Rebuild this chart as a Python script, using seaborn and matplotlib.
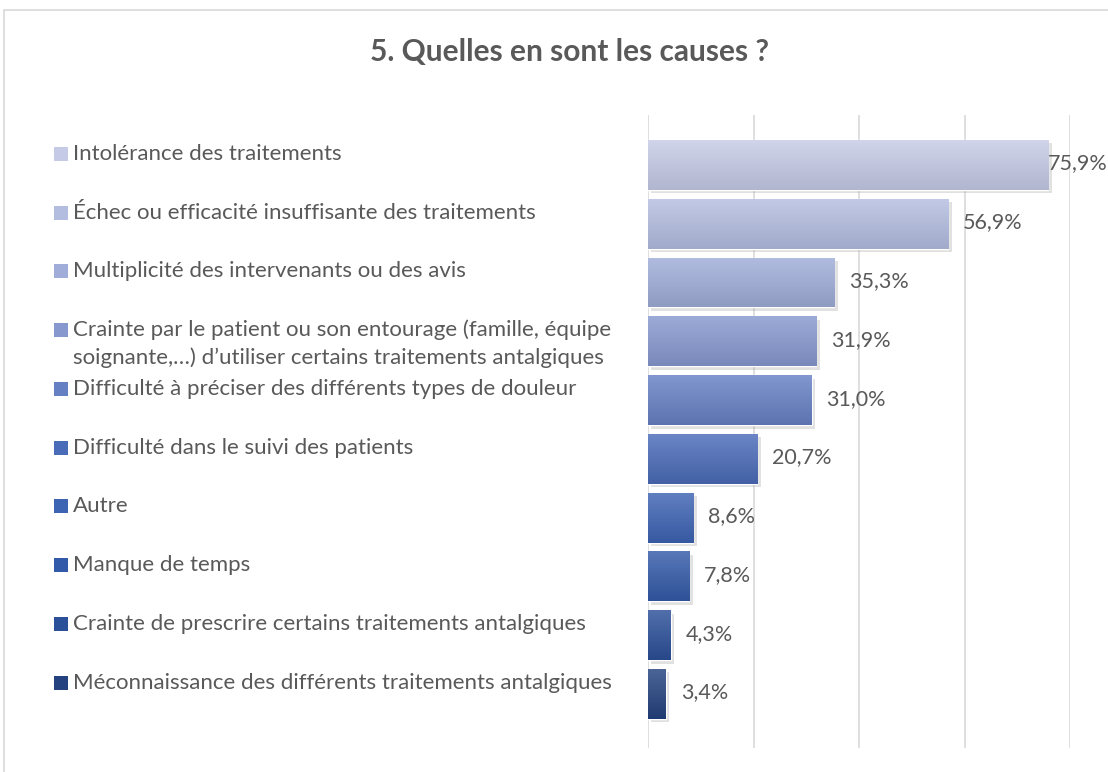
import numpy as np
import pandas as pd
import matplotlib
matplotlib.use('Agg')
import matplotlib.pyplot as plt
import matplotlib.patheffects as pe
import matplotlib.transforms as mtransforms
from matplotlib.colors import to_rgb
from matplotlib.patches import Rectangle
import seaborn as sns

causes = [
    "Intolérance des traitements",
    "Échec ou efficacité insuffisante des traitements",
    "Multiplicité des intervenants ou des avis",
    "Crainte par le patient ou son entourage (famille, équipe\nsoignante,…) d’utiliser certains traitements antalgiques",
    "Difficulté à préciser des différents types de douleur",
    "Difficulté dans le suivi des patients",
    "Autre",
    "Manque de temps",
    "Crainte de prescrire certains traitements antalgiques",
    "Méconnaissance des différents traitements antalgiques",
]
pourcentages = [75.9, 56.9, 35.3, 31.9, 31.0, 20.7, 8.6, 7.8, 4.3, 3.4]
labels = ["75,9%", "56,9%", "35,3%", "31,9%", "31,0%", "20,7%", "8,6%", "7,8%", "4,3%", "3,4%"]

palette = ["#c5cbe6", "#b3bde0", "#9fadd8", "#8798cf", "#6680c4",
           "#4a6bb8", "#3d63b3", "#335aa8", "#2b4f98", "#24427f"]

df = pd.DataFrame({"cause": causes, "pct": pourcentages})

sns.set_theme(style="white")
plt.rcParams['font.family'] = ['Lato', 'DejaVu Sans']
grey = "#595959"

fig = plt.figure(figsize=(11.08, 7.72), dpi=100)
ax = fig.add_axes([648 / 1108, 1 - 748 / 772, (1070 - 648) / 1108, (748 - 115) / 772])

sns.barplot(data=df, y="cause", x="pct", hue="cause", palette=palette,
            legend=False, width=0.85, ax=ax, zorder=2, saturation=1)

ax.set_xticks([0, 20, 40, 60, 80])
ax.grid(axis='x', color='#d9d9d9', linewidth=1.2, zorder=0)
ax.grid(axis='y', visible=False)
ax.set_xticklabels([])
ax.set_yticks([])
ax.set_xlabel("")
ax.set_ylabel("")
for s in ax.spines.values():
    s.set_visible(False)

# vertical gradient + soft shadow on every bar
for patch, col in zip(ax.patches, palette):
    base = np.array(to_rgb(col))
    top = base + (1 - base) * 0.18
    bot = base * 0.9
    t = np.linspace(0, 1, 64)[:, None]
    grad = top * (1 - t) + bot * t
    img = np.repeat(grad[:, None, :], 2, axis=1)
    x0, y0 = patch.get_x(), patch.get_y()
    w, h = patch.get_width(), patch.get_height()
    patch.set_path_effects([pe.SimplePatchShadow(offset=(2.5, -2.5), shadow_rgbFace='#8a8a8a', alpha=0.25),
                            pe.Normal()])
    im = ax.imshow(img, extent=(x0, x0 + w, y0 + h, y0), aspect='auto', zorder=3,
                   interpolation='bilinear')
    im.set_clip_path(patch)

ax.set_xlim(0, 80)
ax.set_ylim(9.92, -0.85)

# value labels (the longest one is pushed against the bar so it stays inside the figure)
for i, (v, lab) in enumerate(zip(pourcentages, labels)):
    off = 0 if v > 70 else 10.8
    ax.annotate(lab, xy=(v, i), xytext=(off, 1), textcoords='offset points',
                ha='left', va='center', fontsize=15.5, color=grey, annotation_clip=False)

# legend-style labels on the left
trans = mtransforms.blended_transform_factory(fig.transFigure, ax.transData)
for i, (c, col) in enumerate(zip(causes, palette)):
    y = i - 0.19
    ax.plot([61 / 1108], [y], marker='s', markersize=9.5, color=col, transform=trans,
            clip_on=False, markeredgewidth=0)
    lines = c.split("\n")
    for k, line in enumerate(lines):
        ax.text(73 / 1108, y + 0.47 * k, line, transform=trans, ha='left', va='center',
                fontsize=16, color=grey)

fig.text(569 / 1108, 1 - 52 / 772, "5. Quelles en sont les causes ?", ha='center', va='center',
         fontsize=21.5, fontweight='bold', color=grey)

fig.patches.append(Rectangle((4 / 1108, -0.05), 1.1, 1 - 10 / 772 + 0.05, transform=fig.transFigure,
                             fill=False, edgecolor='#d9d9d9', linewidth=1.2, clip_on=False))

fig.savefig("out.png", dpi=100)
